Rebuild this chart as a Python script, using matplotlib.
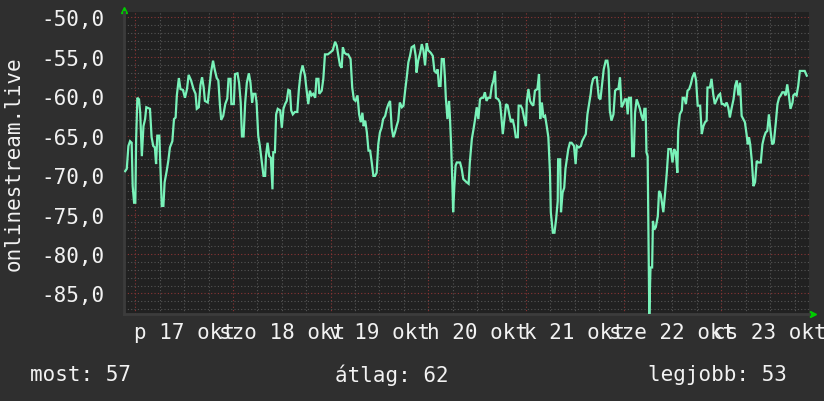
import matplotlib
matplotlib.use("Agg")
import matplotlib.pyplot as plt
from matplotlib.transforms import blended_transform_factory

# hours after 17 okt 00:00, signal level (dBm)
hours = [
    -2.5, -2.1, -1.7, -1.3, -0.9, -0.65, -0.3, 0.0, 0.2, 0.5, 0.9, 1.2, 1.6, 2.0, 2.4, 2.7,
    3.6, 4.0, 4.4, 4.8, 5.1, 5.4, 5.9, 6.2, 6.5, 6.9, 7.2, 7.7, 8.1, 8.5, 9.1, 9.5, 9.9,
    10.2, 10.7, 11.1, 11.7, 12.2, 12.7, 13.1, 13.7, 14.3, 14.8, 15.1, 15.6, 16.0, 16.4,
    16.8, 17.1, 17.8, 18.2, 18.6, 19.1, 19.5, 20.0, 20.4, 20.8, 21.1, 21.6, 22.1, 22.6,
    22.9, 23.4, 23.6, 24.2, 24.5, 25.1, 25.5, 25.9, 26.2, 26.6, 27.0, 27.4, 27.9, 28.3,
    28.7, 29.0, 29.5, 29.8, 30.2, 30.6, 31.1, 31.5, 31.9, 32.1, 32.5, 32.9, 33.3, 33.7,
    33.9, 34.3, 34.6, 35.0, 35.6, 36.0, 36.4, 36.8, 37.2, 37.6, 38.0, 38.3, 38.7, 39.2,
    39.8, 40.2, 40.6, 41.1, 41.7, 42.1, 42.5, 42.9, 43.3, 43.7, 44.2, 44.5, 45.0, 45.2,
    45.8, 46.2, 46.6, 47.3, 47.8, 48.5, 49.1, 49.5, 49.9, 50.3, 50.7, 51.0, 51.4, 51.9,
    52.3, 52.9, 53.3, 53.7, 54.1, 54.6, 55.0, 55.4, 55.8, 56.1, 56.5, 56.9, 57.3, 57.7,
    58.1, 58.5, 58.9, 59.3, 59.7, 60.1, 60.5, 60.9, 61.4, 61.8, 62.2, 62.6, 63.0, 63.4,
    63.8, 64.2, 64.6, 65.0, 65.5, 65.9, 66.3, 66.7, 67.1, 67.5, 67.9, 68.5, 68.9, 69.1,
    69.5, 70.0, 70.4, 70.8, 71.2, 71.6, 72.0, 72.6, 73.1, 73.5, 73.9, 74.3, 74.6, 75.0,
    75.3, 75.8, 76.1, 76.3, 76.7, 77.1, 77.3, 77.6, 77.9, 78.1, 78.4, 78.7, 79.0, 79.8,
    80.2, 80.6, 81.0, 81.4, 81.9, 82.2, 82.7, 83.1, 83.5, 83.9, 84.3, 84.7, 85.1, 85.5,
    85.9, 86.3, 86.7, 87.2, 87.6, 88.0, 88.4, 88.6, 89.2, 89.6, 90.0, 90.3, 90.7, 91.1,
    91.5, 91.9, 92.3, 92.7, 93.1, 93.5, 94.0, 94.2, 94.7, 95.1, 95.6, 96.0, 96.2, 96.6,
    97.0, 97.4, 97.8, 98.2, 98.8, 99.2, 99.5, 99.9, 100.3, 100.7, 101.1, 101.5, 101.9,
    102.1, 102.6, 103.0, 103.4, 103.8, 103.9, 104.4, 104.6, 105.0, 105.4, 105.7, 106.1,
    106.4, 106.8, 107.2, 107.8, 108.2, 108.5, 109.0, 109.5, 109.8, 110.3, 110.7, 111.1,
    111.5, 111.9, 112.1, 112.5, 113.0, 113.4, 113.9, 114.3, 114.7, 115.1, 115.6, 116.0,
    116.3, 116.6, 117.0, 117.5, 117.9, 118.3, 118.7, 119.1, 119.5, 119.9, 120.3, 120.7,
    121.0, 121.3, 121.8, 122.1, 122.5, 122.8, 123.2, 123.6, 124.0, 124.4, 124.8, 125.1,
    125.4, 125.6, 125.9, 126.1, 126.3, 126.6, 127.0, 127.2, 127.5, 127.9, 128.4, 128.7,
    129.1, 129.75, 130.2, 130.6, 131.0, 131.6, 132.0, 132.4, 132.8, 133.2, 133.4, 133.8,
    134.3, 134.5, 134.9, 135.3, 135.7, 136.1, 136.5, 136.9, 137.4, 137.8, 138.2, 138.8,
    139.2, 139.6, 140.0, 140.4, 140.6, 141.2, 141.6, 142.0, 142.4, 142.9, 143.3, 143.7,
    144.1, 144.5, 144.9, 145.3, 145.7, 146.1, 146.5, 147.0, 147.4, 147.8, 148.2, 148.6,
    149.0, 149.4, 149.8, 150.2, 150.5, 150.8, 151.1, 151.5, 151.9, 152.3, 152.7, 153.1,
    153.7, 154.1, 154.5, 154.9, 155.3, 155.7, 156.1, 156.5, 156.9, 157.4, 157.8, 158.2,
    158.6, 159.0, 159.4, 159.8, 160.2, 160.6, 161.0, 161.5, 161.7, 162.1, 162.5, 162.9,
    163.3, 163.9, 164.5, 165.0,
]
dbm = [
    -69.5, -69.2, -66.3, -65.7, -65.9, -71.4, -73.5, -73.5, -65.4, -60.2, -60.4, -62.1,
    -67.6, -63.8, -62.9, -61.4, -61.6, -65.2, -66.3, -66.5, -68.6, -65.0, -65.0, -69.5,
    -73.9, -73.9, -70.9, -69.5, -68.2, -66.5, -65.7, -62.9, -62.7, -59.9, -57.7, -59.1,
    -59.2, -60.2, -59.1, -57.3, -58.0, -59.1, -59.7, -61.6, -61.4, -58.6, -57.6, -58.9,
    -60.6, -60.8, -58.9, -57.0, -55.5, -56.6, -57.7, -58.0, -61.2, -63.0, -62.5, -61.0,
    -60.3, -57.8, -57.8, -61.0, -61.0, -57.2, -57.1, -58.3, -60.8, -65.1, -65.1, -60.8,
    -58.3, -57.1, -58.3, -60.8, -59.7, -59.7, -60.8, -65.0, -66.3, -68.4, -70.1, -70.1,
    -67.6, -65.9, -67.6, -67.8, -71.8, -67.1, -67.1, -62.3, -61.6, -61.8, -64.0, -61.6,
    -61.0, -60.6, -59.2, -59.3, -61.8, -62.3, -62.0, -62.0, -59.1, -57.2, -56.1, -57.4,
    -59.3, -61.0, -59.3, -59.9, -59.7, -60.2, -57.8, -57.8, -59.7, -59.3, -57.8, -54.7,
    -54.7, -54.5, -54.2, -53.1, -53.6, -54.9, -56.1, -56.4, -53.8, -54.5, -54.7, -54.7,
    -55.3, -58.9, -60.4, -60.6, -59.9, -62.3, -63.3, -62.1, -63.8, -63.1, -64.6, -66.9,
    -66.9, -68.4, -70.1, -70.1, -69.7, -66.1, -64.6, -64.0, -62.9, -62.5, -61.6, -61.0,
    -60.6, -64.0, -65.2, -64.6, -63.8, -63.1, -60.8, -61.4, -61.2, -59.3, -57.6, -55.7,
    -54.9, -53.8, -53.6, -54.9, -57.0, -55.5, -54.5, -53.4, -54.2, -56.1, -53.3, -54.2,
    -54.5, -54.9, -56.8, -57.0, -56.6, -58.7, -58.7, -55.3, -55.3, -57.8, -60.2, -62.9,
    -60.6, -62.5, -66.1, -70.9, -74.7, -71.4, -68.8, -68.4, -68.4, -69.2, -70.5, -70.7,
    -70.9, -71.1, -68.4, -65.4, -64.2, -62.9, -61.4, -62.9, -60.4, -60.2, -60.2, -59.5,
    -60.6, -60.2, -60.2, -58.7, -58.0, -56.8, -60.2, -60.4, -60.8, -62.9, -64.8, -62.9,
    -61.0, -61.2, -62.3, -63.3, -62.9, -63.8, -65.2, -65.2, -61.2, -61.2, -61.6, -62.9,
    -63.8, -60.6, -59.1, -60.6, -61.0, -61.2, -59.3, -59.1, -57.2, -62.9, -60.8, -62.7,
    -62.5, -63.8, -65.2, -69.7, -74.7, -77.3, -77.3, -75.6, -73.3, -68.0, -68.0, -74.7,
    -72.2, -71.6, -69.2, -67.8, -66.7, -65.9, -65.9, -66.3, -68.6, -66.3, -66.5, -66.3,
    -65.7, -65.2, -64.8, -62.3, -61.0, -59.7, -58.7, -57.8, -57.6, -57.6, -60.2, -60.4,
    -58.5, -56.6, -55.5, -55.5, -56.6, -61.8, -63.1, -62.3, -59.3, -59.1, -59.1, -57.6,
    -61.4, -61.0, -60.4, -60.4, -62.3, -60.2, -60.2, -67.6, -67.6, -62.1, -60.4, -61.0,
    -61.6, -62.5, -63.1, -61.6, -61.6, -67.1, -67.6, -77.7, -87.6, -81.7, -81.7, -75.8,
    -76.9, -76.6, -75.2, -72.0, -72.4, -74.7, -72.2, -69.7, -66.7, -66.7, -68.4, -66.7,
    -67.1, -69.7, -64.4, -62.3, -61.8, -60.2, -60.2, -61.0, -59.3, -59.1, -58.5, -57.6,
    -57.0, -58.0, -61.2, -61.2, -64.8, -63.8, -63.3, -63.1, -58.9, -58.9, -57.8, -59.7,
    -61.0, -60.4, -59.9, -59.7, -61.0, -61.0, -61.2, -60.8, -61.4, -62.7, -61.6, -60.4,
    -58.7, -58.0, -59.9, -58.3, -62.5, -62.9, -63.3, -64.8, -66.1, -65.2, -66.1, -68.2,
    -71.4, -70.9, -68.2, -68.4, -68.4, -66.1, -65.2, -64.6, -64.4, -62.3, -64.4, -66.1,
    -65.9, -63.3, -61.0, -60.2, -59.9, -59.5, -59.5, -59.9, -58.5, -59.9, -61.6, -60.8,
    -59.9, -59.7, -59.9, -58.7, -56.8, -56.8, -56.8, -57.4,
]

day_labels = ["p 17 okt", "szo 18 okt", "v 19 okt", "h 20 okt",
              "k 21 okt", "sze 22 okt", "cs 23 okt"]
y_ticks = [-50, -55, -60, -65, -70, -75, -80, -85]
legend_texts = ["most: 57", "átlag: 62", "legjobb: 53"]
legend_x = [0.036, 0.406, 0.786]

bg = "#2f2f2f"
canvas = "#212121"
mono = "DejaVu Sans Mono"
txt = "#f2f2f2"

fig = plt.figure(figsize=(8.24, 4.02), dpi=100, facecolor=bg)
ax = fig.add_axes([0.1505, 0.2164, 0.8313, 0.7505], facecolor=canvas)

# grid: minor gray every 1 dBm / 6 h, major red every 5 dBm / 24 h
ax.set_yticks(y_ticks)
ax.set_yticks(range(-87, -49), minor=True)
ax.set_xticks(range(0, 168, 24))
ax.set_xticks(range(-0, 166, 6), minor=True)
ax.grid(which="minor", color="#555555", linestyle=(0, (1, 2)), linewidth=0.8)
ax.grid(which="major", color="#8a3535", linestyle=(0, (1, 2)), linewidth=0.8)
ax.set_axisbelow(True)

ax.plot(hours, dbm, color="#79f2b9", linewidth=1.6, solid_joinstyle="miter", zorder=3)

ax.set_xlim(-2.78, 165.55)
ax.set_ylim(-87.6, -49.37)

ax.set_yticklabels([("%.1f" % v).replace(".", ",") for v in y_ticks],
                   fontfamily=mono, fontsize=15, color=txt)
ax.set_xticklabels([])
ax.tick_params(axis="both", which="both", length=0)
ax.tick_params(axis="y", pad=14)

for s in ax.spines.values():
    s.set_visible(False)
ax.spines["left"].set_visible(True)
ax.spines["bottom"].set_visible(True)
ax.spines["left"].set_color("#3c3c3c")
ax.spines["bottom"].set_color("#3c3c3c")
ax.spines["left"].set_linewidth(2)
ax.spines["bottom"].set_linewidth(2)

# day labels centred at noon
tr = blended_transform_factory(ax.transData, ax.transAxes)
for i, lab in enumerate(day_labels):
    ax.text(i * 24 + 12, -0.058, lab, transform=tr, ha="center", va="center",
            fontfamily=mono, fontsize=15, color=txt, clip_on=False)

# green axis arrows
ax.plot([0], [1.007], marker="^", ms=5, color="#00cc00", transform=ax.transAxes, clip_on=False)
ax.plot([1.006], [0], marker=">", ms=5, color="#00cc00", transform=ax.transAxes, clip_on=False)

fig.text(0.016, 0.592, "onlinestream.live", rotation=90, ha="center", va="center",
         fontfamily=mono, fontsize=15, color=txt)

for x, t in zip(legend_x, legend_texts):
    fig.text(x, 0.067, t, ha="left", va="center", fontfamily=mono, fontsize=15, color=txt)

fig.savefig("out.png", dpi=100, facecolor=bg)
